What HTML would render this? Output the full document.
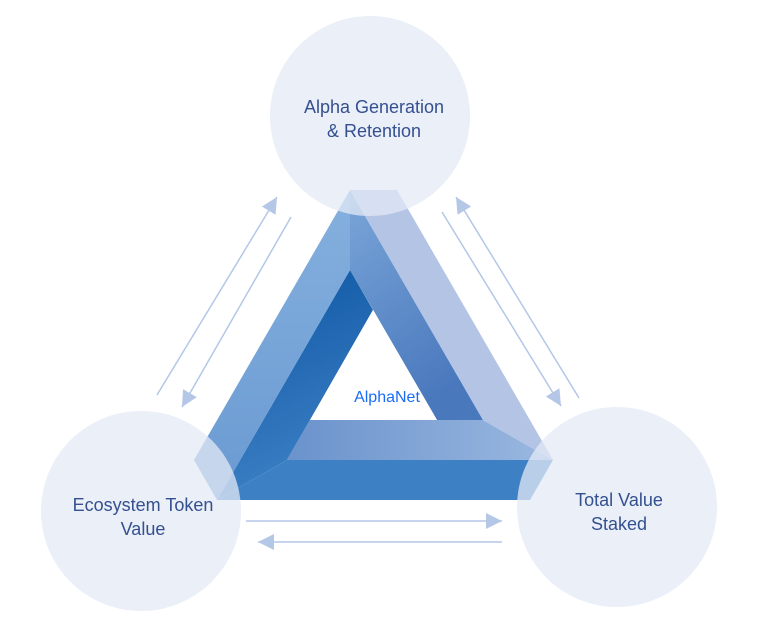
<!DOCTYPE html>
<html><head><meta charset="utf-8"><style>
html,body{margin:0;padding:0;background:#fff;}
svg{display:block;}
text{font-family:"Liberation Sans",sans-serif;}
</style></head><body>
<svg width="760" height="627" viewBox="0 0 760 627" xmlns="http://www.w3.org/2000/svg">
<defs>
<marker id="ah" markerUnits="userSpaceOnUse" markerWidth="18" markerHeight="18" refX="16" refY="8" orient="auto">
<path d="M0,0 L16,8 L0,16 Z" fill="#b4c7e7"/>
</marker>
<linearGradient id="gd" x1="0" y1="0" x2="0.3" y2="1">
<stop offset="0" stop-color="#0c55a3"/><stop offset="1" stop-color="#3c7fc4"/>
</linearGradient>
<linearGradient id="gm" x1="0" y1="0" x2="0.4" y2="1">
<stop offset="0" stop-color="#7aa6d8"/><stop offset="1" stop-color="#4a78bd"/>
</linearGradient>
<linearGradient id="gh" x1="0" y1="0" x2="1" y2="0">
<stop offset="0" stop-color="#6a92cc"/><stop offset="1" stop-color="#9ab8e0"/>
</linearGradient>
<linearGradient id="gl" x1="0" y1="0" x2="0" y2="1">
<stop offset="0" stop-color="#85b0de"/><stop offset="1" stop-color="#6a9ad2"/>
</linearGradient>
</defs>
<polygon points="287,460 553,460 530,500 217,500" fill="#3d80c4"/>
<polygon points="350,190 483,420 437,420 350,270" fill="url(#gm)"/>
<polygon points="350,270 373,310 310,420 287,460 217,500" fill="url(#gd)"/>
<polygon points="350,190 194,460 217,500 350,270" fill="url(#gl)"/>
<polygon points="310,420 483,420 553,460 287,460" fill="url(#gh)"/>
<polygon points="350,190 397,190 553,460 483,420" fill="#b3c4e5"/>
<polygon points="373,310 437,420 310,420" fill="#fff"/>
<circle cx="370" cy="116" r="100" fill="#e3e9f5" fill-opacity="0.75"/>
<circle cx="141" cy="511" r="100" fill="#e3e9f5" fill-opacity="0.75"/>
<circle cx="617" cy="507" r="100" fill="#e3e9f5" fill-opacity="0.75"/>
<g stroke="#b4c7e7" stroke-width="1.5" fill="none">
<line x1="157" y1="395" x2="277" y2="197" marker-end="url(#ah)"/>
<line x1="291" y1="217" x2="182" y2="407" marker-end="url(#ah)"/>
<line x1="442" y1="212" x2="561" y2="406" marker-end="url(#ah)"/>
<line x1="579" y1="398" x2="456" y2="197" marker-end="url(#ah)"/>
<line x1="246" y1="521" x2="502" y2="521" marker-end="url(#ah)"/>
<line x1="502" y1="542" x2="258" y2="542" marker-end="url(#ah)"/>
</g>
<g fill="#34508f" font-size="18" text-anchor="middle">
<text x="374" y="113">Alpha Generation</text>
<text x="374" y="137">&amp; Retention</text>
<text x="143" y="511">Ecosystem Token</text>
<text x="143" y="535">Value</text>
<text x="619" y="506">Total Value</text>
<text x="619" y="530">Staked</text>
</g>
<text x="387" y="402" fill="#1a6cf5" font-size="16" text-anchor="middle">AlphaNet</text>
</svg>
</body></html>
